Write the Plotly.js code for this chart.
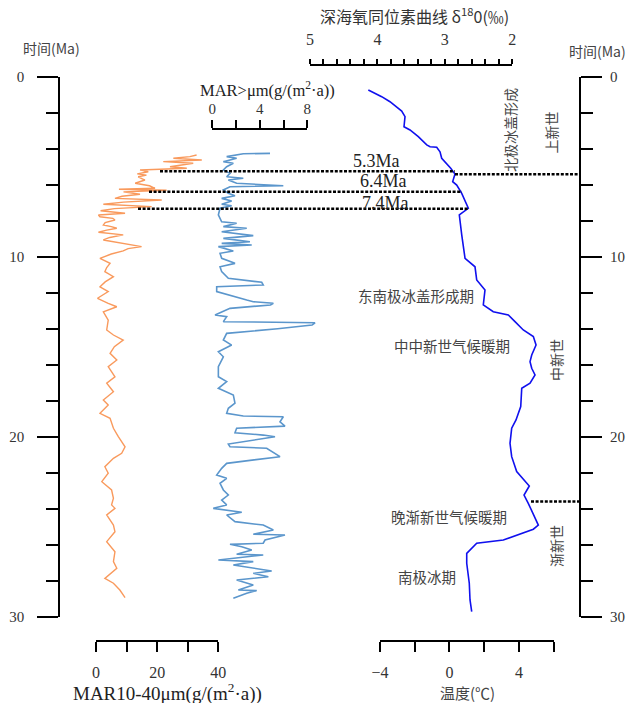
<!DOCTYPE html>
<html><head><meta charset="utf-8">
<script src="https://cdn.plot.ly/plotly-3.0.1.min.js"></script>
<style>html,body{margin:0;padding:0;background:#fff;}#chart{width:627px;height:703px;}</style>
</head><body><div id="chart"></div>
<script>
// ---- data (age in Ma) ----
const ORANGE_AGE=[4.35,4.44,4.53,4.63,4.72,4.81,5.00,5.09,5.18,5.28,5.40,5.47,5.56,5.74,5.92,6.06,6.20,6.25,6.31,6.40,6.53,6.64,6.76,6.85,6.97,7.09,7.22,7.33,7.45,7.59,7.68,7.78,7.87,7.96,8.10,8.24,8.33,8.42,8.52,8.64,8.79,8.93,9.07,9.25,9.44,9.55,9.68,9.85,10.09,10.37,10.60,10.83,11.11,11.40,11.67,11.94,12.31,12.59,12.78,13.06,13.52,14.07,14.35,14.63,15.00,15.37,15.74,16.11,16.67,17.03,17.50,17.96,18.24,18.70,18.98,19.53,20.00,20.56,20.92,21.20,21.67,22.03,22.50,22.96,23.42,23.79,23.98,24.35,24.91,25.28,25.83,26.39,26.94,27.31,27.87,28.14,28.52,28.94];
const ORANGE_MAR=[32.9,30.7,25.3,34.6,22.0,31.8,24.2,29.7,14.4,17.1,13.5,16.5,13.8,16.0,12.8,17.5,19.3,7.5,23.1,9.0,14.4,8.5,6.2,21.5,9.0,2.4,18.2,6.0,1.5,9.5,0.8,1.3,5.5,6.2,3.0,2.4,5.0,6.8,3.5,0.8,8.9,4.5,2.4,8.0,14.9,10.5,8.9,5.0,1.3,4.6,3.5,2.9,5.7,3.0,1.3,4.0,0.5,4.0,6.8,2.4,4.0,3.5,5.7,8.9,6.0,4.6,6.8,4.0,6.2,3.5,5.7,2.4,4.0,1.3,4.6,5.7,7.3,9.5,8.4,5.7,2.9,4.0,1.9,5.1,5.7,5.1,6.2,3.5,5.7,6.2,3.5,6.2,5.7,6.8,2.9,5.7,7.8,9.5];

const COARSE_AGE=[4.26,4.28,4.44,4.53,4.72,4.81,5.00,5.18,5.37,5.56,5.64,5.74,5.92,6.06,6.11,6.29,6.48,6.61,6.76,6.91,7.09,7.17,7.31,7.68,8.06,8.14,8.33,8.42,8.61,8.83,8.98,9.17,9.26,9.35,9.44,9.68,9.81,10.09,10.37,10.56,10.83,11.20,11.42,11.57,11.67,11.94,12.41,12.50,12.59,12.68,12.87,13.24,13.33,13.61,13.67,13.80,14.00,14.26,14.63,14.91,15.28,15.56,16.11,16.67,16.94,17.31,17.68,18.14,18.42,18.70,18.85,18.89,19.17,19.41,19.53,19.78,19.91,20.00,20.41,20.56,20.64,20.92,21.11,21.48,21.76,22.13,22.31,22.59,22.96,23.24,23.52,23.79,23.98,24.20,24.35,24.72,24.91,25.18,25.42,25.46,25.74,25.92,25.98,26.11,26.29,26.53,26.57,26.85,26.94,27.13,27.46,27.59,27.78,27.96,28.24,28.52,28.55,28.70,28.98];
const COARSE_MAR=[4.86,2.61,1.21,2.05,0.93,1.77,1.21,0.93,1.49,1.21,2.61,1.35,2.05,5.98,1.49,0.93,1.35,1.91,0.79,1.63,0.79,1.63,0.65,0.51,0.79,2.05,0.93,2.90,0.79,3.45,0.93,3.17,0.79,3.32,0.51,1.77,0.65,0.79,1.91,0.65,0.79,1.35,4.16,4.29,0.37,0.37,2.90,3.45,5.14,4.90,1.49,0.23,1.21,0.93,8.65,8.40,5.50,1.21,0.93,1.63,0.51,0.93,0.51,0.51,1.21,0.51,1.77,1.91,1.35,1.21,2.61,5.98,5.70,6.12,2.05,1.91,4.29,5.28,1.35,1.49,4.58,5.28,5.70,1.21,0.79,0.37,1.21,0.65,0.93,1.35,0.79,1.21,0.08,2.48,1.21,1.91,4.29,5.14,3.45,6.12,4.44,4.29,1.49,2.48,3.32,2.05,4.29,0.51,3.45,1.77,5.00,3.45,4.72,2.05,3.45,2.19,3.74,2.90,1.77];

const D18O_AGE=[0.74,1.11,1.39,1.67,1.91,2.22,2.78,2.96,3.33,3.79,3.89,3.92,4.17,4.53,4.81,5.09,5.41,5.83,6.02,6.48,7.31,7.68,8.79,10.09,10.56,11.29,11.85,12.68,13.06,13.24,13.61,14.07,14.44,14.91,15.46,15.83,16.20,16.57,17.03,17.31,18.33,19.07,19.53,20.37,21.11,21.94,22.74,23.24,23.70,24.91,25.14,25.74,25.92,26.48,27.03,28.14,29.07,29.72];
const D18O_VAL=[4.135,3.937,3.814,3.714,3.640,3.591,3.606,3.517,3.394,3.269,3.220,3.121,3.072,3.047,2.973,2.913,2.850,2.884,2.824,2.750,2.652,2.786,2.750,2.701,2.553,2.528,2.405,2.430,2.282,2.059,1.960,1.837,1.688,1.648,1.712,1.737,1.712,1.663,1.737,1.860,1.875,1.945,2.009,2.034,2.009,1.935,1.748,1.826,1.763,1.614,1.688,2.133,2.528,2.676,2.676,2.638,2.627,2.602];

// tick steps: [labelled step, minor step]
const TIME_STEP=[10,2];
const ORANGE_STEP=[20,10];
const COARSE_STEP=[4,2];
const D18O_STEP=[1,0.2];
const TEMP_STEP=[4,2];

// event lines (Ma)
const EVENT_LINES=[
  {ma:5.25,x0:160,x1:455},
  {ma:5.42,x0:455,x1:579},
  {ma:6.39,x0:149,x1:462},
  {ma:7.33,x0:138,x1:468},
  {ma:23.6,x0:531,x1:579}
];

// ---- layout geometry ----
const W=627,H=703;
const X=p=>p/W, Y=p=>1-p/H;
function fullRange(p0,p1,v0,v1){const k=(v1-v0)/(p1-p0);return [v0-p0*k, v0+(W-p0)*k];}
const ORA={p:[96,218.3],r:[0,40],y:640.7};
const COA={p:[212.3,307.3],r:[0,8],y:129.3};
const DO={p:[310,512.3],r:[5,2],y:65};
const TMP={p:[380,553.7],r:[-4,6],y:640.7};

const serif='"Liberation Serif", "Times New Roman", serif';
const cjk='"Noto Sans CJK SC", sans-serif';
const tickFont={family:serif,size:15,color:'#333'};

const baseVis={showline:true,linewidth:2,linecolor:'#000',ticks:'outside',tickwidth:2,tickcolor:'#000',showgrid:false,zeroline:false,tickfont:tickFont,fixedrange:true};
function ticks(step,tick0,len,minorLen){
  return {tickmode:'linear',dtick:step[0],tick0:tick0,ticklen:len,
    minor:{dtick:step[1],tick0:tick0,ticks:'outside',ticklen:minorLen,tickwidth:2,tickcolor:'#000',showgrid:false}};
}

const traces=[
  {x:ORANGE_MAR,y:ORANGE_AGE,xaxis:'x',yaxis:'y',mode:'lines',line:{color:'#f99a5d',width:1.4},hoverinfo:'skip',showlegend:false},
  {x:COARSE_MAR,y:COARSE_AGE,xaxis:'x2',yaxis:'y',mode:'lines',line:{color:'#5b96cc',width:1.6},hoverinfo:'skip',showlegend:false},
  {x:D18O_VAL,y:D18O_AGE,xaxis:'x3',yaxis:'y',mode:'lines',line:{color:'#1010ee',width:1.6},hoverinfo:'skip',showlegend:false},
  {x:[],y:[],xaxis:'x4',yaxis:'y',showlegend:false},
  {x:[],y:[],xaxis:'x5',yaxis:'y',showlegend:false},
  {x:[],y:[],xaxis:'x6',yaxis:'y',showlegend:false},
  {x:[],y:[],xaxis:'x7',yaxis:'y',showlegend:false},
  {x:[],y:[],xaxis:'x',yaxis:'y2',showlegend:false}
];

const yBase=Object.assign({},baseVis,{range:[30,0]},ticks(TIME_STEP,0,21,12));
const bigTick={family:serif,size:16,color:'#333'};

const layout={
  width:W,height:H,autosize:false,margin:{l:0,r:0,t:0,b:0,pad:0},
  paper_bgcolor:'#fff',plot_bgcolor:'rgba(0,0,0,0)',showlegend:false,
  xaxis:{visible:false,domain:[0,1],range:fullRange(ORA.p[0],ORA.p[1],ORA.r[0],ORA.r[1]),anchor:'y',fixedrange:true},
  xaxis2:{visible:false,overlaying:'x',range:fullRange(COA.p[0],COA.p[1],COA.r[0],COA.r[1]),anchor:'y',fixedrange:true},
  xaxis3:{visible:false,overlaying:'x',range:fullRange(DO.p[0],DO.p[1],DO.r[0],DO.r[1]),anchor:'y',fixedrange:true},
  xaxis4:Object.assign({},baseVis,{domain:[X(ORA.p[0]),X(ORA.p[1])],range:ORA.r,anchor:'free',position:Y(ORA.y),side:'bottom',
    tickfont:bigTick,ticklabelstandoff:7},ticks(ORANGE_STEP,0,10,10)),
  xaxis5:Object.assign({},baseVis,{domain:[X(COA.p[0]),X(COA.p[1])],range:COA.r,anchor:'free',position:Y(COA.y),side:'top',
    ticklabelstandoff:0},ticks(COARSE_STEP,0,8,8)),
  xaxis6:Object.assign({},baseVis,{domain:[X(DO.p[0]),X(DO.p[1])],range:DO.r,anchor:'free',position:Y(DO.y),side:'top',
    tickfont:bigTick,ticklabelstandoff:8},ticks(D18O_STEP,0,5,5)),
  xaxis7:Object.assign({},baseVis,{domain:[X(TMP.p[0]),X(TMP.p[1])],range:TMP.r,anchor:'free',position:Y(TMP.y),side:'bottom',
    tickfont:bigTick,ticklabelstandoff:7},ticks(TEMP_STEP,-4,10,10)),
  yaxis:Object.assign({},yBase,{domain:[Y(616.7),Y(76.7)],anchor:'free',position:X(59.3),side:'left',ticklabelstandoff:10}),
  yaxis2:Object.assign({},yBase,{overlaying:'y',anchor:'free',position:X(580),side:'right',ticklabelstandoff:5}),
  shapes:EVENT_LINES.map(e=>({type:'line',xref:'paper',yref:'y',x0:X(e.x0),x1:X(e.x1),y0:e.ma,y1:e.ma,
    line:{color:'#000',width:2.5,dash:'3px,1.6px'}})),
  annotations:[]
};

function ann(text,px,py,font,extra){
  layout.annotations.push(Object.assign({text:text,xref:'paper',yref:'paper',x:X(px),y:Y(py),xanchor:'center',yanchor:'middle',
    showarrow:false,font:font},extra||{}));
}
const cjkGrey=s=>({family:cjk,size:s,color:'#444'});
ann('时间(Ma)',51.5,48,cjkGrey(14));
ann('时间(Ma)',597,51,cjkGrey(14));
ann('深海氧同位素曲线 δ<sup>18</sup>0(‰)',414,16,{family:cjk,size:16,color:'#333'});
ann('MAR&gt;μm(g/(m<sup>2</sup>·a))',267.5,89.5,{family:serif,size:16.5,color:'#222'});
ann('MAR10-40μm(g/(m<sup>2</sup>·a))',167,692,{family:serif,size:19,color:'#222'});
ann('温度(℃)',467,692.5,cjkGrey(15));
ann('5.3Ma',376.7,161,{family:serif,size:18,color:'#222'});
ann('6.4Ma',383,181,{family:serif,size:18,color:'#222'});
ann('7.4Ma',385,203,{family:serif,size:18,color:'#222'});
ann('北极冰盖形成',510,130,cjkGrey(14),{textangle:-90});
ann('上新世',550,132.5,cjkGrey(14),{textangle:-90});
ann('中新世',556,360,cjkGrey(14),{textangle:-90});
ann('渐新世',556,546,cjkGrey(14),{textangle:-90});
ann('东南极冰盖形成期',416,295,cjkGrey(14.5));
ann('中中新世气候暖期',451.7,345,cjkGrey(14.5));
ann('晚渐新世气候暖期',449,516.7,cjkGrey(14.5));
ann('南极冰期',427,576.7,cjkGrey(14.5));

Plotly.newPlot('chart',traces,layout,{staticPlot:true,displayModeBar:false});
</script></body></html>
